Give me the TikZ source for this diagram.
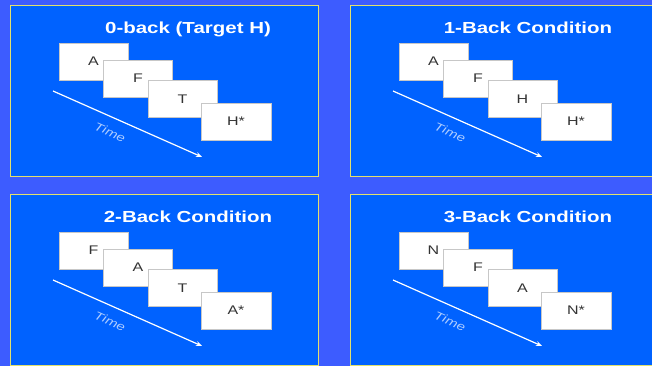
\documentclass[tikz,border=0pt]{standalone}
\usepackage{fontspec}
\setmainfont{Liberation Sans}
\usetikzlibrary{arrows.meta}

\definecolor{slideback}{RGB}{61,92,255}
\definecolor{panelblue}{RGB}{0,98,255}
\definecolor{panelrim}{RGB}{225,225,110}
\definecolor{timeblue}{RGB}{175,205,255}

% slide text is stretched sideways
\newcommand{\wide}[1]{\scalebox{1.28}[1]{#1}}

\tikzset{
	panel/.style={fill=panelblue, draw=panelrim, line width=0.9pt},
	card/.style={fill=white, draw=black!22, line width=0.4pt,
		minimum width=69pt, minimum height=37pt, inner sep=0pt,
		font=\fontsize{12.5}{13}\selectfont, text=black!80},
	heading/.style={text=white, anchor=base, inner sep=0pt,
		font=\fontsize{16}{18}\selectfont\bfseries},
	timelabel/.style={text=timeblue, rotate=-24, inner sep=0pt,
		font=\fontsize{11.5}{12}\selectfont\itshape},
	timearrow/.style={white, line width=1.2pt, -{Stealth[length=6pt, width=5pt]}}
}

\begin{document}
\begin{tikzpicture}[x=1pt, y=-1pt]
	% Background
	\fill[slideback] (0,0) rectangle (652,366);
	\useasboundingbox (0,0) rectangle (652,366);
	\clip (0,0) rectangle (652,366);
	% Panels
	\foreach \p/\dx/\dy/\ttl/\la/\lb/\lc/\ld in {%
		1/0/0/{0-back (Target H)}/A/F/T/H,%
		2/340/0/{1-Back Condition}/A/F/H/H,%
		3/0/189/{2-Back Condition}/F/A/T/A,%
		4/340/189/{3-Back Condition}/N/F/A/N}
	{
		\begin{scope}[shift={(\dx,\dy)}]
			\draw[panel] (10,5.5) rectangle (318.5,176);
			\node[heading] (title\p) at (188,33.5) {\wide{\ttl}};
			% Cards
			\node[card] (c1\p) at (93.5,61.5) {\wide{\la}};
			\node[card] (c2\p) at (138,78.5) {\wide{\lb}};
			\node[card] (c3\p) at (182.5,99) {\wide{\lc}};
			\node[card, minimum width=70pt] (c4\p) at (236,121.5) {\wide{\ld*}};
			% Time axis
			\coordinate (ts\p) at (53,91);
			\coordinate (te\p) at (202,157);
			\draw[timearrow] (ts\p) -- (te\p);
			\node[timelabel] (time\p) at (110,132) {\wide{Time}};
		\end{scope}
	}
\end{tikzpicture}
\end{document}
